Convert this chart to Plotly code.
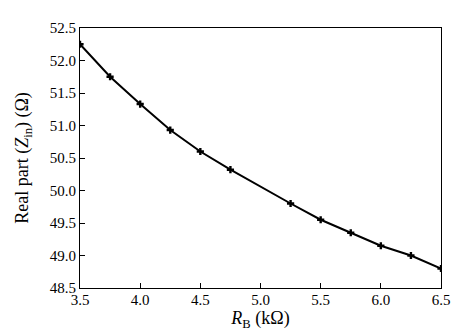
import plotly.graph_objects as go

rb_kohm = [3.5, 3.75, 4.0, 4.25, 4.5, 4.75, 5.25, 5.5, 5.75, 6.0, 6.25, 6.5]
real_zin = [52.25, 51.75, 51.33, 50.93, 50.60, 50.32, 49.80, 49.55, 49.35, 49.15, 49.00, 48.80]
x_ticks = [3.5, 4.0, 4.5, 5.0, 5.5, 6.0, 6.5]
y_ticks = [48.5, 49.0, 49.5, 50.0, 50.5, 51.0, 51.5, 52.0, 52.5]

fig = go.Figure(go.Scatter(
    x=rb_kohm, y=real_zin, mode="lines+markers",
    line=dict(color="black", width=2),
    marker=dict(symbol="cross", size=6, color="black"),
    showlegend=False,
))

font = dict(family="Liberation Serif", size=15, color="black")
fig.update_layout(
    width=462, height=335,
    margin=dict(l=72, r=29, t=20, b=55),
    paper_bgcolor="white", plot_bgcolor="white",
    font=font,
)
fig.update_xaxes(
    range=[3.5, 6.5], tickvals=x_ticks, ticktext=[f"{v:.1f}" for v in x_ticks],
    ticks="inside", ticklen=5, tickcolor="black", tickwidth=1,
    showline=True, linecolor="black", linewidth=1, mirror=True,
    showgrid=False, zeroline=False, ticklabelstandoff=-2,
    title=dict(text="<i>R</i><sub>B</sub> (kΩ)", standoff=0),
)
fig.update_yaxes(
    range=[48.5, 52.5], tickvals=y_ticks, ticktext=[f"{v:.1f}" for v in y_ticks],
    ticks="inside", ticklen=5, tickcolor="black", tickwidth=1,
    showline=True, linecolor="black", linewidth=1, mirror=True,
    showgrid=False, zeroline=False,
    title=dict(text="Real part (<i>Z</i><sub>in</sub>) (Ω)", standoff=16),
)
fig.write_html("out.html")
